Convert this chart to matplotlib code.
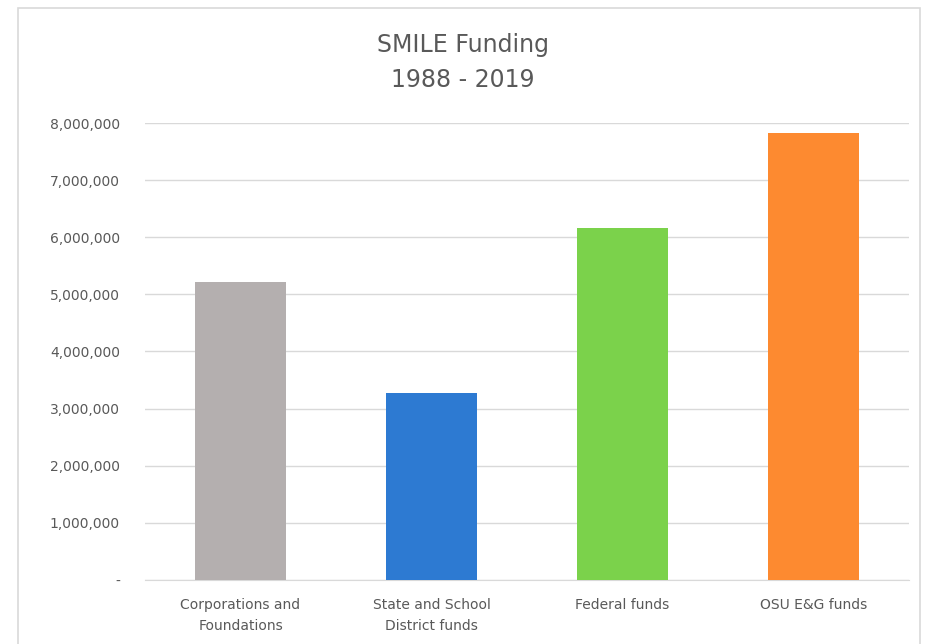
import matplotlib.pyplot as plt
from matplotlib.ticker import FuncFormatter
from matplotlib.patches import Rectangle

categories = ['Corporations and\nFoundations', 'State and School\nDistrict funds',
              'Federal funds', 'OSU E&G funds']
amounts = [5220000, 3270000, 6170000, 7830000]
colors = ['#b4afaf', '#2d7ad2', '#7bd24b', '#fd8a30']
y_ticks = [0, 1000000, 2000000, 3000000, 4000000, 5000000, 6000000, 7000000, 8000000]

plt.rcParams['font.family'] = ['DejaVu Sans']

fig = plt.figure(figsize=(9.26, 6.44), dpi=100)
# light frame around the chart area, like the Excel chart border
fig.patches.append(Rectangle((0.019, -0.02), 0.975, 1.008, transform=fig.transFigure,
                             fill=False, edgecolor='#d9d9d9', linewidth=1.2))

ax = fig.add_axes([0.1566, 0.0994, 0.825, 0.7096])
x = range(len(categories))
ax.bar(x, amounts, width=0.48, color=colors, zorder=3)

ax.set_xlim(-0.5, len(categories) - 0.5)
ax.set_ylim(0, 8000000)
ax.set_yticks(y_ticks)


def fmt(v, pos):
    if v == 0:
        return '-'
    return '{:,.0f}'.format(v)


ax.yaxis.set_major_formatter(FuncFormatter(fmt))
ax.set_xticks(list(x))
ax.set_xticklabels(categories, fontsize=10, color='#595959', linespacing=1.6)
ax.tick_params(axis='y', length=0, pad=18, labelsize=10, labelcolor='#595959')
ax.tick_params(axis='x', length=0, pad=13)

ax.grid(axis='y', color='#d9d9d9', linewidth=1, zorder=0)
for side in ['top', 'right', 'left']:
    ax.spines[side].set_visible(False)
ax.spines['bottom'].set_color('#d9d9d9')

fig.text(0.5, 0.930, 'SMILE Funding', ha='center', va='center', fontsize=17, color='#595959')
fig.text(0.5, 0.876, '1988 - 2019', ha='center', va='center', fontsize=17, color='#595959')

fig.savefig('out.png', dpi=100, facecolor='white')
